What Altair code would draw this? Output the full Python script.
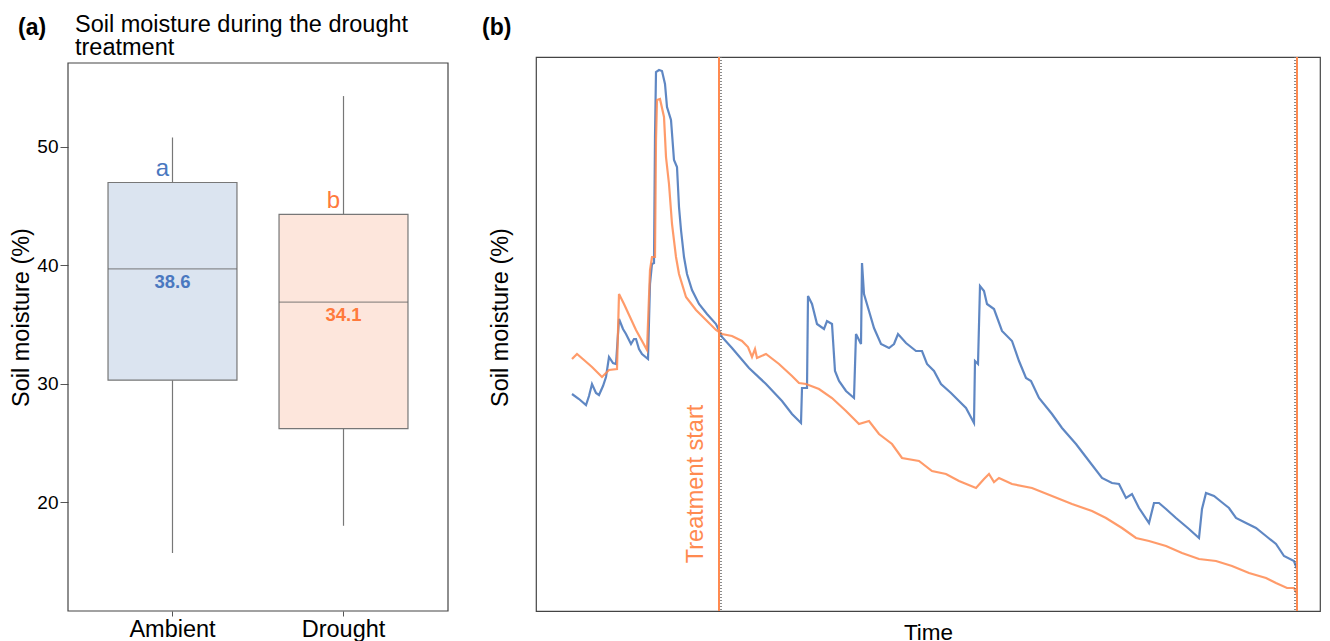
import altair as alt
import pandas as pd

# ---------------- Panel (a): summary statistics ----------------
groups = ["Ambient", "Drought"]
whisker_low = [15.7, 18.0]
q1 = [30.3, 26.2]
median = [39.7, 36.9]
q3 = [47.0, 44.3]
whisker_high = [50.8, 54.3]
median_labels = ["38.6", "34.1"]
letters = ["a", "b"]
fill_colors = ["#dbe4f0", "#fde6dc"]
label_colors = ["#4a78c0", "#ff7a3c"]
y_ticks = [20, 30, 40, 50]
panel_a_title = "Soil moisture during the drought\ntreatment"

# ---------------- Panel (b): time series (time index, soil moisture) ----------------
ambient_series = [
    (36, 21.7), (43, 21.2), (50, 20.6), (53, 21.5), (56, 22.7), (60, 21.8), (63, 21.6),
    (67, 22.5), (70, 23.4), (73, 25.4), (77, 24.8), (80, 24.7), (83, 29.2), (87, 28.2),
    (90, 27.7), (95, 26.7), (98, 27.2), (100, 27.2), (103, 26.2), (106, 25.7), (112, 25.2),
    (114, 32.7), (116, 34.7), (118, 34.8), (119, 47.4), (120, 53.9), (123, 54.1), (126, 54.0),
    (129, 52.7), (131, 50.4), (135, 49.1), (138, 45.1), (141, 44.4), (143, 40.4), (145, 38.1),
    (148, 35.4), (151, 33.7), (156, 32.1), (163, 30.7), (171, 29.7), (180, 28.7), (186, 27.4),
    (196, 26.3), (213, 24.3), (230, 22.7), (246, 21.0), (256, 19.7), (265, 18.8), (266, 22.3),
    (271, 22.3), (272, 31.5), (276, 30.7), (281, 28.7), (288, 28.2), (291, 29.0), (296, 28.7),
    (299, 24.0), (303, 23.0), (310, 22.0), (318, 21.3), (320, 27.7), (325, 26.7), (326, 34.8),
    (328, 31.7), (333, 30.0), (338, 28.3), (345, 26.7), (353, 26.3), (358, 26.7), (362, 27.7),
    (370, 26.8), (380, 26.0), (386, 26.0), (391, 24.7), (398, 24.0), (405, 22.7), (415, 21.8),
    (423, 21.0), (430, 20.3), (438, 18.8), (439, 25.0), (442, 24.7), (444, 32.5), (448, 32.0),
    (451, 30.7), (458, 30.2), (466, 28.0), (476, 27.0), (483, 25.0), (490, 23.3), (495, 23.0),
    (503, 21.3), (516, 19.7), (526, 18.3), (540, 16.7), (553, 15.0), (566, 13.3), (576, 12.8),
    (583, 12.7), (590, 11.3), (596, 11.7), (603, 10.3), (613, 8.8), (618, 10.8), (623, 10.8),
    (630, 10.2), (640, 9.3), (653, 8.2), (663, 7.3), (666, 10.2), (670, 11.8), (678, 11.5),
    (688, 10.7), (693, 10.3), (700, 9.3), (710, 8.8), (720, 8.3), (730, 7.5), (740, 6.7),
    (748, 5.5), (758, 5.0), (761, 4.2),
]
drought_series = [
    (36, 25.2), (41, 25.7), (48, 25.1), (56, 24.4), (66, 23.4), (73, 24.1), (81, 24.2),
    (83, 31.7), (88, 30.7), (100, 28.1), (111, 26.1), (114, 34.1), (116, 35.4), (119, 35.4),
    (120, 47.1), (121, 51.1), (124, 51.2), (128, 49.4), (130, 45.4), (133, 42.7), (136, 38.7),
    (140, 35.4), (143, 33.7), (150, 31.4), (160, 30.1), (170, 29.1), (180, 28.1), (186, 27.7),
    (196, 27.5), (206, 27.0), (212, 26.4), (216, 25.4), (219, 26.2), (221, 25.3), (230, 25.7),
    (243, 24.7), (256, 23.5), (263, 22.8), (270, 22.7), (283, 22.2), (296, 21.3), (310, 20.0),
    (323, 18.7), (333, 19.0), (343, 17.7), (356, 16.7), (366, 15.3), (383, 15.0), (396, 14.0),
    (410, 13.7), (423, 13.0), (440, 12.3), (448, 13.2), (453, 13.7), (458, 12.9), (463, 13.3),
    (476, 12.7), (496, 12.3), (516, 11.5), (536, 10.7), (556, 10.0), (570, 9.3), (586, 8.3),
    (600, 7.3), (613, 7.0), (630, 6.5), (646, 5.8), (663, 5.2), (680, 5.0), (696, 4.5),
    (713, 3.8), (730, 3.3), (740, 2.8), (751, 2.3), (758, 2.3), (761, 1.7),
]
treatment_marks = [183, 761]
treatment_dots = [185, 759]
treatment_label = "Treatment start"

FONT = "Liberation Sans"
BLUE = "#4372b8"
ORANGE = "#ff8a50"
GRAY = "#777777"
FRAME = "#444444"

# ---------------- Panel (a) ----------------
box_df = pd.DataFrame({
    "group": groups, "wlow": whisker_low, "q1": q1, "median": median,
    "q3": q3, "whigh": whisker_high, "label": median_labels, "letter": letters,
})

x_enc = alt.X(
    "group:N", sort=groups, title=None,
    scale=alt.Scale(paddingInner=0.246, paddingOuter=0.234),
    axis=alt.Axis(labelAngle=0, labelFontSize=23.5, labelColor="black", tickSize=5,
                  tickColor="#555555", domain=False, labelPadding=1, labelFont=FONT),
)
y_scale = alt.Scale(domain=[10.8, 57.6], nice=False, zero=False)
y_axis = alt.Axis(values=y_ticks, labelFontSize=19, labelColor="black", tickSize=8,
                  tickColor="#555555", domain=False, grid=False, labelPadding=2,
                  title="Soil moisture (%)", titleFontSize=23.5, titleFontWeight="normal",
                  titleColor="black", titlePadding=3, titleY=260, titleFont=FONT, labelFont=FONT)

base = alt.Chart(box_df)
whisk_hi = base.mark_rule(color=GRAY, strokeWidth=1.2).encode(
    x=x_enc, y=alt.Y("q3:Q", scale=y_scale, axis=y_axis), y2="whigh:Q")
whisk_lo = base.mark_rule(color=GRAY, strokeWidth=1.2).encode(
    x=x_enc, y=alt.Y("wlow:Q", scale=y_scale), y2="q1:Q")
boxes = base.mark_bar(stroke=GRAY, strokeWidth=1.2).encode(
    x=x_enc, y=alt.Y("q1:Q", scale=y_scale), y2="q3:Q",
    fill=alt.Fill("group:N", scale=alt.Scale(domain=groups, range=fill_colors), legend=None))
med_line = base.mark_tick(color="#666666", thickness=1.2, size=129).encode(
    x=x_enc, y=alt.Y("median:Q", scale=y_scale))
med_text = base.mark_text(fontSize=18.5, fontWeight="bold", baseline="top", dy=4, font=FONT).encode(
    x=x_enc, y=alt.Y("median:Q", scale=y_scale), text="label:N",
    color=alt.Color("group:N", scale=alt.Scale(domain=groups, range=label_colors), legend=None))
letter_text = base.mark_text(fontSize=24, baseline="bottom", dy=-1, dx=-10, font=FONT).encode(
    x=x_enc, y=alt.Y("q3:Q", scale=y_scale), text="letter:N",
    color=alt.Color("group:N", scale=alt.Scale(domain=groups, range=label_colors), legend=None))

one_row = pd.DataFrame({"tag": ["(a)"], "title": [panel_a_title]})
frame_a = alt.Chart(one_row).mark_rect(fillOpacity=0, stroke=FRAME, strokeWidth=1.2).encode(
    x=alt.value(0), x2=alt.value(380), y=alt.value(6), y2=alt.value(554))
tag_a = alt.Chart(one_row).mark_text(
    fontSize=23, fontWeight="bold", align="left", baseline="alphabetic", font=FONT, color="black"
).encode(x=alt.value(-50), y=alt.value(-22), text="tag:N")
title_a = alt.Chart(one_row).mark_text(
    fontSize=23.5, align="left", baseline="alphabetic", font=FONT, color="black",
    lineBreak="\n", lineHeight=23
).encode(x=alt.value(7), y=alt.value(-25), text="title:N")

panel_a = alt.layer(frame_a, whisk_hi, whisk_lo, boxes, med_line, med_text, letter_text,
                    tag_a, title_a).properties(
    width=380, height=554, view=alt.ViewBackground(stroke="transparent"),
)

# ---------------- Panel (b) ----------------
amb_df = pd.DataFrame(ambient_series, columns=["t", "v"])
dro_df = pd.DataFrame(drought_series, columns=["t", "v"])
x_scale_b = alt.Scale(domain=[0, 784], nice=False, zero=False)
y_scale_b = alt.Scale(domain=[0, 55.4], nice=False, zero=False)
x_axis_b = alt.Axis(title="Time", labels=False, ticks=False, domain=False, grid=False,
                    titleFontSize=22.5, titleFontWeight="normal", titleColor="black",
                    titlePadding=10, titleFont=FONT)
y_axis_b = alt.Axis(title="Soil moisture (%)", labels=False, ticks=False, domain=False, grid=False,
                    titleFontSize=23.5, titleFontWeight="normal", titleColor="black",
                    titlePadding=24, titleY=260, titleFont=FONT)

line_amb = alt.Chart(amb_df).mark_line(color=BLUE, strokeWidth=2.2, opacity=0.85).encode(
    x=alt.X("t:Q", scale=x_scale_b, axis=x_axis_b),
    y=alt.Y("v:Q", scale=y_scale_b, axis=y_axis_b))
line_dro = alt.Chart(dro_df).mark_line(color=ORANGE, strokeWidth=2.2, opacity=0.85).encode(
    x=alt.X("t:Q", scale=x_scale_b), y=alt.Y("v:Q", scale=y_scale_b))
dots = alt.Chart(pd.DataFrame({"t": treatment_dots})).mark_rule(
    color="#666666", strokeWidth=1.5, strokeDash=[1, 2]).encode(x=alt.X("t:Q", scale=x_scale_b))
rules = alt.Chart(pd.DataFrame({"t": treatment_marks})).mark_rule(
    color=ORANGE, strokeWidth=2).encode(x=alt.X("t:Q", scale=x_scale_b))
label_b = alt.Chart(pd.DataFrame({"t": [treatment_marks[0]], "v": [12.7], "txt": [treatment_label]})).mark_text(
    angle=270, align="center", baseline="bottom", dy=-11, fontSize=23.5, color=ORANGE, font=FONT
).encode(x=alt.X("t:Q", scale=x_scale_b), y=alt.Y("v:Q", scale=y_scale_b), text="txt:N")
tag_b = alt.Chart(pd.DataFrame({"tag": ["(b)"]})).mark_text(
    fontSize=23, fontWeight="bold", align="left", baseline="alphabetic", font=FONT, color="black"
).encode(x=alt.value(-54), y=alt.value(-22), text="tag:N")

panel_b = alt.layer(line_amb, line_dro, dots, rules, label_b, tag_b).properties(
    width=784, height=554,
)

chart = alt.hconcat(panel_a, panel_b, spacing=31).properties(
    padding={"left": 1, "top": 4, "right": 0, "bottom": 0}
).configure(font=FONT).configure_view(stroke=FRAME, strokeWidth=1.2)

chart.save("out.html", embed_options={"renderer": "svg", "actions": False})
